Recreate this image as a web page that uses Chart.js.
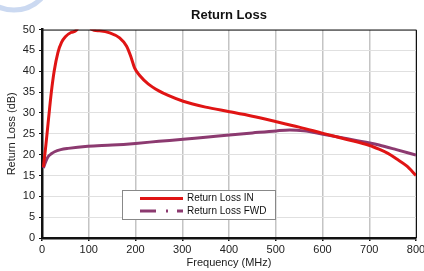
<!DOCTYPE html>
<html>
<head>
<meta charset="utf-8">
<script src="https://cdn.jsdelivr.net/npm/chart.js@4/dist/chart.umd.min.js"></script>
<style>
  html, body { margin: 0; padding: 0; background: #fff; }
  #wrap { width: 424px; height: 271px; }
</style>
</head>
<body>
<div id="wrap"><canvas id="rlChart" width="424" height="271"></canvas></div>
<script>
// data
const freqIn = [3, 8, 13, 20, 26, 34, 42, 50, 62, 74, 90, 106, 123, 145, 166, 181, 191, 198, 209, 227, 250, 270, 302, 350, 401, 450, 501, 550, 601, 650, 701, 721, 740, 758, 780, 800];
const lossIn = [17, 22, 27.5, 35, 40, 44.5, 47, 48.3, 49.3, 49.9, 54, 50.1, 49.7, 49.2, 48, 46, 43.2, 40.8, 39, 37, 35.3, 34.2, 32.8, 31.4, 30.3, 29.2, 27.9, 26.6, 25.1, 23.7, 22.2, 21.3, 20.3, 19, 17.3, 15];
const freqFwd = [3, 8, 13, 20, 27, 40, 56, 98, 150, 200, 250, 302, 350, 401, 450, 501, 530, 560, 601, 650, 701, 721, 758, 800];
const lossFwd = [16.8, 18.3, 19.5, 20.2, 20.7, 21.2, 21.5, 22.0, 22.3, 22.7, 23.2, 23.7, 24.2, 24.7, 25.2, 25.7, 25.9, 25.7, 24.9, 23.9, 22.8, 22.3, 21.2, 19.9];
const xTicks = [0, 100, 200, 300, 400, 500, 600, 700, 800];
const yTicks = [0, 5, 10, 15, 20, 25, 30, 35, 40, 45, 50];

const seriesNames = ['Return Loss IN', 'Return Loss FWD'];
const redCol = '#e01414';
const purpleCol = '#8c3a70';

function pts(xs, ys) {
    return xs.map(function(x, i) { return { x: x, y: ys[i] }; });
}

// frame, watermark and legend box
const extras = {
    id: 'extras',
    beforeDraw: function(chart) {
        const c = chart.ctx;
        c.save();
        c.strokeStyle = 'rgba(190,208,238,0.8)';
        c.lineWidth = 5;
        c.beginPath();
        c.arc(14, -28, 38, 0, Math.PI);
        c.stroke();
        c.restore();
    },
    afterDraw: function(chart) {
        const c = chart.ctx;
        const a = chart.chartArea;
        c.save();
        c.strokeStyle = '#111';
        c.lineWidth = 1;
        c.beginPath();
        c.moveTo(a.left, a.top + 0.5);
        c.lineTo(a.right + 0.5, a.top + 0.5);
        c.lineTo(a.right + 0.5, a.bottom);
        c.stroke();

        // legend
        const bx = 122, by = 190, bw = 153, bh = 29;
        c.fillStyle = '#fff';
        c.fillRect(bx, by, bw, bh);
        c.strokeStyle = '#888';
        c.strokeRect(bx + 0.5, by + 0.5, bw, bh);
        c.font = '10px "Liberation Sans", Arial, sans-serif';
        c.textBaseline = 'middle';
        chart.data.datasets.forEach(function(ds, i) {
            const yy = by + 8.5 + i * 12.5;
            c.strokeStyle = ds.borderColor;
            c.lineWidth = 3;
            c.setLineDash(i === 1 ? [16, 10, 2, 9] : []);
            c.beginPath();
            c.moveTo(140, yy);
            c.lineTo(183, yy);
            c.stroke();
            c.setLineDash([]);
            c.fillStyle = '#111';
            c.fillText(ds.label, 187, yy);
        });
        c.restore();
    }
};

const ctx = document.getElementById('rlChart').getContext('2d');
const rlChart = new Chart(ctx, {
    type: 'line',
    data: {
        datasets: [{
            label: seriesNames[0],
            data: pts(freqIn, lossIn),
            borderColor: redCol,
            borderWidth: 3,
            pointRadius: 0,
            cubicInterpolationMode: 'monotone',
            clip: 0,
            fill: false
        }, {
            label: seriesNames[1],
            data: pts(freqFwd, lossFwd),
            borderColor: purpleCol,
            borderWidth: 3,
            pointRadius: 0,
            cubicInterpolationMode: 'monotone',
            clip: 0,
            fill: false
        }]
    },
    options: {
        responsive: false,
        animation: false,
        layout: { padding: { left: 0, right: 8, top: 0, bottom: 0 } },
        plugins: {
            legend: { display: false },
            tooltip: { enabled: false },
            title: {
                display: true,
                text: 'Return Loss',
                fullSize: false,
                color: '#111',
                font: { family: '"Liberation Sans", Arial, sans-serif', size: 13, weight: 'bold' },
                padding: { top: 8, bottom: 6 }
            }
        },
        scales: {
            x: {
                type: 'linear',
                min: 0,
                max: 800,
                afterBuildTicks: function(s) { s.ticks = xTicks.map(function(v) { return { value: v }; }); },
                afterFit: function(s) { s.height = 33; s.paddingRight = 0; s.paddingLeft = 0; },
                border: { display: true, color: '#111', width: 2.5 },
                grid: { color: '#c4c4c4', lineWidth: 1.5, tickLength: 3, tickColor: '#111' },
                ticks: {
                    color: '#222',
                    padding: 2,
                    maxRotation: 0,
                    font: { family: '"Liberation Sans", Arial, sans-serif', size: 11 }
                },
                title: {
                    display: true,
                    text: 'Frequency (MHz)',
                    color: '#222',
                    font: { family: '"Liberation Sans", Arial, sans-serif', size: 11 },
                    padding: { top: 0, bottom: 1.4 }
                }
            },
            y: {
                min: 0,
                max: 50,
                afterBuildTicks: function(s) { s.ticks = yTicks.map(function(v) { return { value: v }; }); },
                afterFit: function(s) { s.width = 42; },
                border: { display: true, color: '#111', width: 2.5 },
                grid: { color: '#e0e0e0', lineWidth: 1, tickLength: 3, tickColor: '#111' },
                ticks: {
                    color: '#222',
                    padding: 4,
                    font: { family: '"Liberation Sans", Arial, sans-serif', size: 11 }
                },
                title: {
                    display: true,
                    text: 'Return Loss (dB)',
                    color: '#222',
                    font: { family: '"Liberation Sans", Arial, sans-serif', size: 11 },
                    padding: { top: 5.4, bottom: 0 }
                }
            }
        }
    },
    plugins: [extras]
});
</script>
</body>
</html>
